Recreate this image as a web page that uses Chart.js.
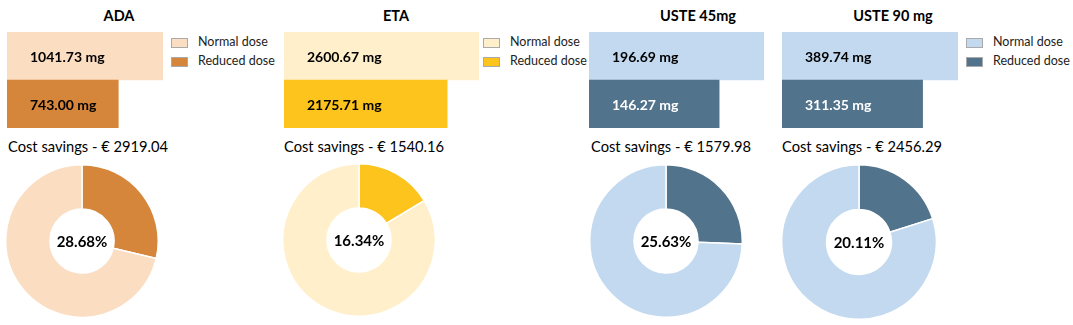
<!DOCTYPE html>
<html>
<head>
<meta charset="utf-8">
<script src="https://cdn.jsdelivr.net/npm/chart.js@4/dist/chart.umd.min.js"></script>
<style>
  body { margin: 0; background: #fff; font-family: Lato, 'Open Sans', sans-serif; color: #000; }
  #wrap { position: relative; width: 1073px; height: 325px; overflow: hidden; }
  .abs { position: absolute; }
  .title { font-weight: bold; font-size: 14.5px; transform: translateX(-50%); white-space: nowrap; }
  .cost { font-size: 14.7px; white-space: nowrap; }
  .leg { font-size: 12.5px; color: #222; white-space: nowrap; }
  .box { width: 17px; height: 10px; border: 1px solid #aaa; box-sizing: border-box; }
</style>
</head>
<body>
<div id="wrap"></div>
<script>
// values
const drugs = ['ADA', 'ETA', 'USTE 45mg', 'USTE 90 mg'];
const doseLabels = ['Normal dose', 'Reduced dose'];
const normalDose = [1041.73, 2600.67, 196.69, 389.74];
const reducedDose = [743.00, 2175.71, 146.27, 311.35];
const costSavings = [2919.04, 1540.16, 1579.98, 2456.29];
const savingPct = [28.68, 16.34, 25.63, 20.11];

// colours per drug: [normal, reduced]
const colors = [
    ['#FBDDC2', '#D5863A'],
    ['#FFEFCA', '#FCC41C'],
    ['#C3D9F0', '#52738C'],
    ['#C3D9F0', '#52738C']
];
const reducedTextColor = ['#000', '#000', '#fff', '#fff'];
const showLegend = [true, true, false, true];

// panel placement (px)
const panels = [
    { barX: 7,   barW: 156, legX: 171, titleX: 119, costX: 8,   cx: 82,  cy: 241, r: 76 },
    { barX: 284, barW: 195, legX: 483, titleX: 396, costX: 284, cx: 359, cy: 240, r: 76 },
    { barX: 589, barW: 175, legX: 0,   titleX: 698, costX: 591, cx: 666, cy: 241, r: 76 },
    { barX: 782, barW: 176, legX: 966, titleX: 893, costX: 782, cx: 859, cy: 242, r: 77 }
];

const wrap = document.getElementById('wrap');

function addDiv(cls, text, css) {
    const d = document.createElement('div');
    d.className = 'abs ' + cls;
    if (text) d.textContent = text;
    Object.assign(d.style, css);
    wrap.appendChild(d);
    return d;
}

function addCanvas(x, y, w, h) {
    const c = document.createElement('canvas');
    c.width = w; c.height = h;
    c.className = 'abs';
    c.style.left = x + 'px'; c.style.top = y + 'px';
    c.style.width = w + 'px'; c.style.height = h + 'px';
    wrap.appendChild(c);
    return c;
}

// writes "xxx mg" inside each bar
const barLabels = {
    id: 'barLabels',
    afterDatasetsDraw(chart, args, opts) {
        const ctx = chart.ctx;
        const meta = chart.getDatasetMeta(0);
        ctx.save();
        ctx.font = 'bold 14px Lato, sans-serif';
        ctx.textBaseline = 'middle';
        meta.data.forEach((bar, i) => {
            ctx.fillStyle = opts.colors[i];
            const v = chart.data.datasets[0].data[i];
            ctx.fillText(v.toFixed(2) + ' mg', bar.base + 23, bar.y + 1);
        });
        ctx.restore();
    }
};

// percentage in the hole of the doughnut
const centerText = {
    id: 'centerText',
    afterDraw(chart, args, opts) {
        const ctx = chart.ctx;
        const a = chart.chartArea;
        ctx.save();
        ctx.font = 'bold 15px Lato, sans-serif';
        ctx.fillStyle = '#000';
        ctx.textAlign = 'center';
        ctx.textBaseline = 'middle';
        ctx.fillText(opts.text, (a.left + a.right) / 2, (a.top + a.bottom) / 2 + 1);
        ctx.restore();
    }
};

drugs.forEach((name, i) => {
    const p = panels[i];

    addDiv('title', name, { left: p.titleX + 'px', top: '7px' });

    // horizontal bars
    const barCanvas = addCanvas(p.barX, 32, p.barW, 96);
    new Chart(barCanvas, {
        type: 'bar',
        data: {
            labels: doseLabels,
            datasets: [{
                data: [normalDose[i], reducedDose[i]],
                backgroundColor: colors[i],
                categoryPercentage: 1,
                barPercentage: 1
            }]
        },
        options: {
            indexAxis: 'y',
            responsive: false,
            animation: false,
            layout: { padding: 0 },
            scales: {
                x: { display: false, min: 0, max: normalDose[i] },
                y: { display: false }
            },
            plugins: {
                legend: { display: false },
                tooltip: { enabled: false },
                barLabels: { colors: ['#000', reducedTextColor[i]] }
            }
        },
        plugins: [barLabels]
    });

    // legend
    if (showLegend[i]) {
        doseLabels.forEach((lab, j) => {
            const y = 38 + j * 19;
            addDiv('box', '', { left: p.legX + 'px', top: y + 'px', background: colors[i][j] });
            addDiv('leg', lab, { left: (p.legX + 27) + 'px', top: (y - 4) + 'px' });
        });
    }

    addDiv('cost', 'Cost savings - € ' + costSavings[i].toFixed(2), { left: p.costX + 'px', top: '137px' });

    // doughnut
    const size = p.r * 2 + 2;
    const dCanvas = addCanvas(p.cx - size / 2, p.cy - size / 2, size, size);
    new Chart(dCanvas, {
        type: 'doughnut',
        data: {
            labels: ['Reduced dose', 'Normal dose'],
            datasets: [{
                data: [savingPct[i], +(100 - savingPct[i]).toFixed(2)],
                backgroundColor: [colors[i][1], colors[i][0]],
                borderColor: '#fff',
                borderWidth: 1.5
            }]
        },
        options: {
            responsive: false,
            animation: false,
            cutout: '42%',
            layout: { padding: 0 },
            plugins: {
                legend: { display: false },
                tooltip: { enabled: false },
                centerText: { text: savingPct[i].toFixed(2) + '%' }
            }
        },
        plugins: [centerText]
    });
});
</script>
</body>
</html>
